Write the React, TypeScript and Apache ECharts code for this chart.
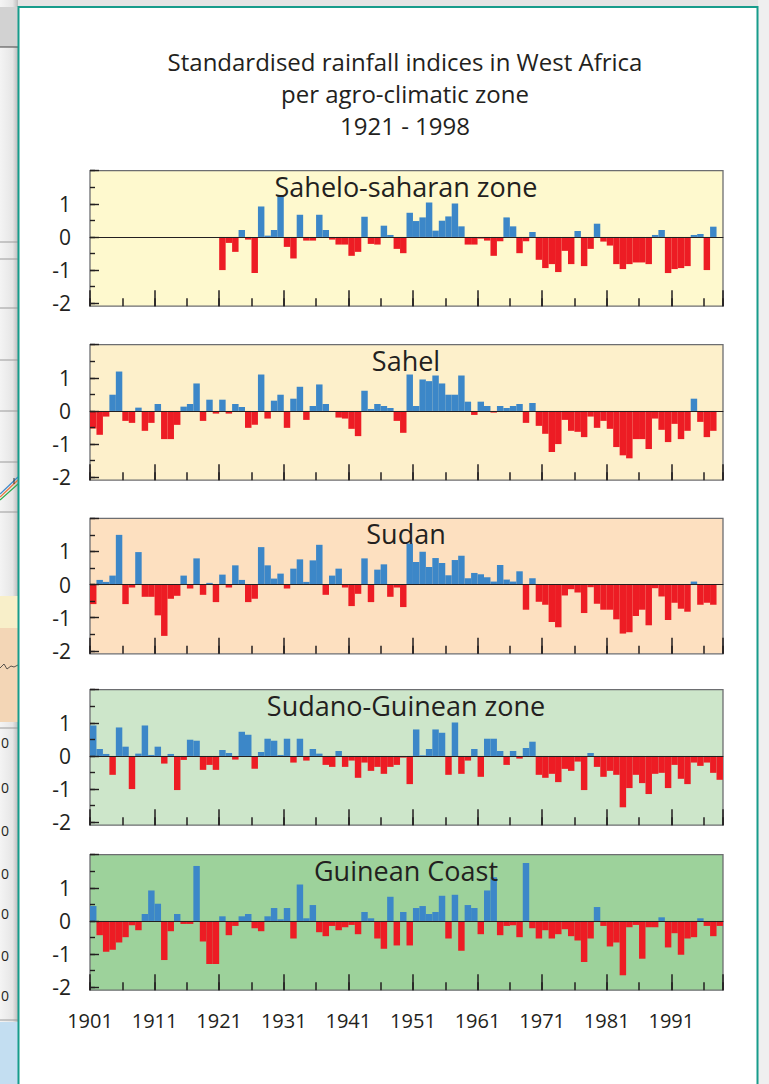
import React, { useEffect, useRef } from 'react';
import * as echarts from 'echarts';

const YEARS = Array.from({ length: 98 }, (_, i) => String(1901 + i));
const X_TICK_LABELS = ['1901', '1911', '1921', '1931', '1941', '1951', '1961', '1971', '1981', '1991'];
const Y_TICK_LABELS = ['-2', '-1', '0', '1'];
const TITLE_LINES = ['Standardised rainfall indices in West Africa', 'per agro-climatic zone', '1921 - 1998'];
const ZONE_NAMES = ['Sahelo-saharan zone', 'Sahel', 'Sudan', 'Sudano-Guinean zone', 'Guinean Coast'];

// values 1901 .. 1998 (null = no bar)
const SAHELO_SAHARAN = [
  null, null, null, null, null, null, null, null, null, null,
  null, null, null, null, null, null, null, null, null, null,
  -1.0, -0.18, -0.45, 0.21, -0.08, -1.09, 0.92, 0.04, 0.21, 1.26,
  -0.3, -0.65, 0.67, -0.11, -0.11, 0.67, 0.21, -0.08, -0.23, -0.23,
  -0.57, -0.45, 0.61, -0.21, -0.23, 0.34, 0.06, -0.36, -0.49, 0.73,
  0.48, 0.59, 1.04, 0.19, 0.49, 0.62, 1.01, 0.32, -0.23, -0.23,
  -0.05, -0.11, -0.57, -0.13, 0.59, 0.32, -0.49, -0.13, 0.15, -0.69,
  -0.94, -0.82, -1.06, -0.42, -0.82, 0.18, -0.88, -0.36, 0.4, -0.14,
  -0.26, -0.82, -0.97, -0.82, -0.77, -0.77, -0.82, 0.06, 0.21, -1.09,
  -0.97, -0.94, -0.88, 0.06, 0.09, -1.0, 0.31, null,
];

const SAHEL = [
  -0.53, -0.72, -0.17, 0.49, 1.19, -0.3, -0.36, 0.1, -0.6, -0.36,
  0.21, -0.85, -0.85, -0.42, 0.13, 0.21, 0.83, -0.3, 0.34, -0.08,
  0.34, -0.08, 0.21, 0.12, -0.51, -0.42, 1.1, -0.23, 0.31, 0.49,
  -0.51, 0.37, 0.73, -0.27, 0.15, 0.8, 0.21, -0.03, -0.2, -0.23,
  -0.54, -0.76, 0.61, 0.06, 0.21, 0.15, 0.09, -0.3, -0.66, 1.1,
  0.15, 0.95, 0.9, 1.07, 0.83, 0.49, 0.49, 1.07, 0.28, -0.12,
  0.28, 0.15, -0.05, 0.15, 0.09, 0.15, 0.21, -0.36, 0.24, -0.45,
  -0.69, -1.24, -1.0, -0.27, -0.6, -0.63, -0.79, -0.17, -0.51, -0.3,
  -0.54, -1.09, -1.34, -1.43, -0.85, -0.85, -1.15, -0.23, -0.57, -0.94,
  -0.39, -0.85, -0.6, 0.37, -0.33, -0.79, -0.6, null,
];

const SUDAN = [
  -0.59, 0.14, 0.08, 0.27, 1.5, -0.59, -0.09, 0.98, -0.37, -0.37,
  -0.93, -1.55, -0.43, -0.34, 0.27, -0.12, 0.79, -0.31, 0.05, -0.53,
  0.3, -0.09, 0.58, 0.14, -0.53, -0.43, 1.13, 0.58, 0.18, 0.33,
  -0.12, 0.48, 0.76, 0.08, 0.73, 1.2, -0.31, 0.27, 0.48, -0.09,
  -0.65, -0.28, 0.79, -0.53, 0.45, 0.61, -0.37, -0.09, -0.68, 1.24,
  0.68, 0.99, 0.53, 0.8, 0.65, 0.28, 0.74, 0.87, 0.19, 0.35,
  0.31, 0.22, 0.09, 0.59, 0.15, 0.09, 0.4, -0.76, 0.19, -0.52,
  -0.61, -1.13, -1.29, -0.33, -0.14, -0.24, -0.86, -0.08, -0.58, -0.76,
  -0.76, -1.05, -1.48, -1.44, -0.95, -0.76, -1.23, -0.11, -0.36, -1.07,
  -0.55, -0.73, -0.82, 0.09, -0.61, -0.55, -0.61, null,
];

const SUDANO_GUINEAN = [
  0.92, 0.21, 0.06, -0.57, 0.86, 0.28, -1.0, 0.07, 0.92, 0.03,
  0.28, -0.23, 0.06, -1.03, -0.12, 0.49, 0.46, -0.42, -0.27, -0.42,
  0.18, 0.09, -0.11, 0.73, 0.64, -0.39, 0.12, 0.52, 0.46, 0.03,
  0.52, -0.2, 0.52, -0.14, 0.21, 0.07, -0.27, -0.33, 0.15, -0.33,
  -0.14, -0.66, -0.2, -0.45, -0.33, -0.54, -0.33, -0.27, -0.05, -0.85,
  0.8, 0.02, 0.21, 0.8, 0.7, -0.57, 1.01, -0.54, -0.14, 0.21,
  -0.63, 0.52, 0.52, 0.15, -0.27, 0.15, -0.08, 0.24, 0.43, -0.57,
  -0.66, -0.54, -0.79, -0.39, -0.45, -0.17, -1.03, 0.09, -0.33, -0.63,
  -0.45, -0.57, -1.55, -0.97, -0.57, -0.82, -1.15, -0.54, -0.51, -0.97,
  -0.27, -0.69, -0.85, -0.2, -0.3, -0.2, -0.51, -0.72,
];

const GUINEAN_COAST = [
  0.45, -0.43, -0.93, -0.87, -0.65, -0.49, -0.13, -0.28, 0.21, 0.92,
  0.52, -1.18, -0.31, 0.21, -0.09, -0.09, 1.66, -0.62, -1.3, -1.3,
  0.14, -0.43, -0.15, 0.14, 0.21, -0.22, -0.31, 0.14, 0.39, 0.05,
  0.39, -0.53, 1.1, 0.08, 0.48, -0.34, -0.46, -0.15, -0.28, -0.19,
  -0.12, -0.4, 0.27, 0.08, -0.53, -0.84, 0.73, -0.74, 0.27, -0.74,
  0.39, 0.45, 0.21, 0.27, 0.76, -0.53, 0.79, -0.9, 0.48, 0.39,
  -0.4, 0.92, 1.32, -0.43, -0.15, -0.13, -0.49, 1.75, -0.22, -0.53,
  -0.28, -0.53, -0.4, -0.25, -0.46, -0.59, -1.24, -0.53, 0.42, -0.15,
  -0.77, -0.65, -1.64, -0.19, -0.12, -1.14, -0.19, -0.19, 0.11, -0.8,
  -0.37, -1.02, -0.53, -0.49, 0.08, -0.15, -0.46, -0.15,
];

const SERIES = [SAHELO_SAHARAN, SAHEL, SUDAN, SUDANO_GUINEAN, GUINEAN_COAST];

// layout / style
const FONT = "'Open Sans', 'Noto Sans', sans-serif";
const INK = '#231F20';
const BLUE = '#3C87C8';
const RED = '#ED1C24';
const PANEL_BG = ['#FEF9CE', '#FDF0CB', '#FDE0C0', '#CDE6CA', '#9DD29B'];
const PANEL_TOPS = [170.7, 344.7, 518.3, 689.7, 854.7];
const LEFT = 90;
const WIDTH = 633;
const GRID_H = 132.5;
const FRAME_H = 135.5;

function buildOption() {
  const grid: any[] = [];
  const xAxis: any[] = [];
  const yAxis: any[] = [];
  const series: any[] = [];
  const graphic: any[] = [];

  // page decoration (cropped page around the figure)
  graphic.push(
    { type: 'rect', z: -20, shape: { x: 0, y: 0, width: 769, height: 7 }, style: { fill: '#e4e4e4' } },
    {
      type: 'rect', z: -20, shape: { x: 0, y: 0, width: 18, height: 1084 },
      style: {
        fill: new echarts.graphic.LinearGradient(0, 0, 1, 0, [
          { offset: 0, color: '#f4f4f4' },
          { offset: 0.7, color: '#e6e6e6' },
          { offset: 1, color: '#bdbdbd' },
        ]),
      },
    },
    { type: 'rect', z: -19, shape: { x: 0, y: 7, width: 18, height: 40 }, style: { fill: '#d2d2d2' } },
    { type: 'rect', z: -19, shape: { x: 0, y: 596, width: 18, height: 32 }, style: { fill: '#f8efc9' } },
    { type: 'rect', z: -19, shape: { x: 0, y: 628, width: 18, height: 94 }, style: { fill: '#f3d6b6' } },
    { type: 'rect', z: -19, shape: { x: 0, y: 1022, width: 18, height: 62 }, style: { fill: '#c3def1' } },
    { type: 'polyline', z: -18, shape: { points: [[0, 668], [4, 664], [7, 669], [11, 666], [14, 667], [18, 665]] }, style: { stroke: '#333', lineWidth: 0.8, fill: null } },
    { type: 'line', z: -18, shape: { x1: 0, y1: 500, x2: 18, y2: 484 }, style: { stroke: '#2ca84a', lineWidth: 1.2 } },
    { type: 'line', z: -18, shape: { x1: 0, y1: 497, x2: 18, y2: 480 }, style: { stroke: '#e8743b', lineWidth: 1.2 } },
    { type: 'line', z: -18, shape: { x1: 0, y1: 494, x2: 18, y2: 477 }, style: { stroke: '#3c87c8', lineWidth: 1.2 } },
    { type: 'line', z: -18, shape: { x1: 14, y1: 478, x2: 14, y2: 484 }, style: { stroke: '#333', lineWidth: 1 } },
  );
  [47, 242, 259, 308, 360, 411, 462, 512, 728, 1020].forEach((y, k) => {
    graphic.push({
      type: 'line', z: -18,
      shape: { x1: 0, y1: y, x2: 18, y2: y },
      style: { stroke: k === 0 ? '#444' : '#9a9a9a', lineWidth: 1 },
    });
  });
  [742, 787, 830, 873, 913, 955, 995].forEach((y) => {
    graphic.push({
      type: 'text', z: -18, x: 1, y,
      style: { text: '0', fill: INK, fontSize: 14, fontFamily: FONT, textAlign: 'left', textVerticalAlign: 'middle' },
    });
  });
  graphic.push(
    { type: 'rect', z: -20, shape: { x: 758, y: 0, width: 11, height: 1084 }, style: { fill: '#efefef' } },
    {
      type: 'polyline', z: -17,
      shape: { points: [[18.5, 1084], [18.5, 7], [757.5, 7], [757.5, 1084]] },
      style: { stroke: '#179C8B', lineWidth: 2, fill: null },
    },
  );

  // title
  TITLE_LINES.forEach((t, k) => {
    graphic.push({
      type: 'text', z: 10, x: 405, y: 61 + 32 * k,
      style: { text: t, fill: INK, fontSize: 24, fontFamily: FONT, textAlign: 'center', textVerticalAlign: 'middle' },
    });
  });

  SERIES.forEach((values, i) => {
    const top = PANEL_TOPS[i];
    const isLast = i === SERIES.length - 1;
    grid.push({ left: LEFT, top, width: WIDTH, height: GRID_H, containLabel: false });

    graphic.push({
      type: 'rect', z: -1,
      shape: { x: LEFT, y: top, width: WIDTH, height: FRAME_H },
      style: { fill: PANEL_BG[i], stroke: '#6D6E71', lineWidth: 1.3 },
    });
    graphic.push({
      type: 'text', z: 10, x: 406, y: top + 15.5,
      style: { text: ZONE_NAMES[i], fill: INK, fontSize: 27, fontFamily: FONT, textAlign: 'center', textVerticalAlign: 'middle' },
    });

    const xBase = xAxis.length;
    // category axis carrying the bars; its line is the zero line
    xAxis.push({
      type: 'category', gridIndex: i, data: YEARS, boundaryGap: true, position: 'bottom', z: 10,
      axisLine: { show: true, onZero: true, lineStyle: { color: INK, width: 1 } },
      axisTick: { show: false }, axisLabel: { show: false }, splitLine: { show: false },
    });
    // decade ticks (+ labels on the bottom panel)
    xAxis.push({
      type: 'value', gridIndex: i, min: 0, max: 98, interval: 10, position: 'bottom', offset: 3, z: 5,
      axisLine: { show: false, onZero: false },
      axisTick: { show: true, inside: true, length: 16, lineStyle: { color: INK, width: 1.5 } },
      axisLabel: {
        show: isLast, margin: 20, color: INK, fontSize: 20, fontFamily: FONT,
        formatter: (v: number) => (v % 10 === 0 && v < 98 ? X_TICK_LABELS[v / 10] : ''),
      },
      splitLine: { show: false },
    });
    // 5-year ticks
    xAxis.push({
      type: 'value', gridIndex: i, min: 0, max: 98, interval: 5, position: 'bottom', offset: 3, z: 5,
      axisLine: { show: false, onZero: false },
      axisTick: { show: true, inside: true, length: 8, lineStyle: { color: INK, width: 1.5 } },
      axisLabel: { show: false }, splitLine: { show: false },
    });

    const yBase = yAxis.length;
    yAxis.push({
      type: 'value', gridIndex: i, min: -2, max: 2, interval: 1, position: 'left', z: 5,
      axisLine: { show: false, onZero: false },
      axisTick: { show: true, inside: true, length: 9, lineStyle: { color: INK, width: 1.4 } },
      axisLabel: {
        show: true, margin: 19, color: INK, fontSize: 21, fontFamily: FONT,
        formatter: (v: number) => (v < 2 ? Y_TICK_LABELS[Math.round(v) + 2] : ''),
      },
      splitLine: { show: false },
    });
    yAxis.push({
      type: 'value', gridIndex: i, min: -2, max: 2, interval: 0.5, position: 'left', z: 5,
      axisLine: { show: false, onZero: false },
      axisTick: { show: true, inside: true, length: 5, lineStyle: { color: INK, width: 1.4 } },
      axisLabel: { show: false }, splitLine: { show: false },
    });

    series.push({
      type: 'bar', name: ZONE_NAMES[i], xAxisIndex: xBase, yAxisIndex: yBase,
      data: values, barWidth: '100%', barCategoryGap: '0%',
      itemStyle: { color: (p: any) => ((p.value as number) >= 0 ? BLUE : RED) },
      emphasis: { disabled: true },
    });
  });

  return {
    animation: false,
    backgroundColor: '#ffffff',
    grid, xAxis, yAxis, series, graphic,
  };
}

export default function App() {
  const ref = useRef<HTMLDivElement | null>(null);
  useEffect(() => {
    if (!ref.current) return;
    const chart = echarts.init(ref.current, undefined, { renderer: 'svg' });
    chart.setOption(buildOption() as any);
    return () => chart.dispose();
  }, []);
  return (
    <div
      ref={ref}
      style={{ position: 'fixed', left: 0, top: 0, width: 769, height: 1084, background: '#fff' }}
    />
  );
}
